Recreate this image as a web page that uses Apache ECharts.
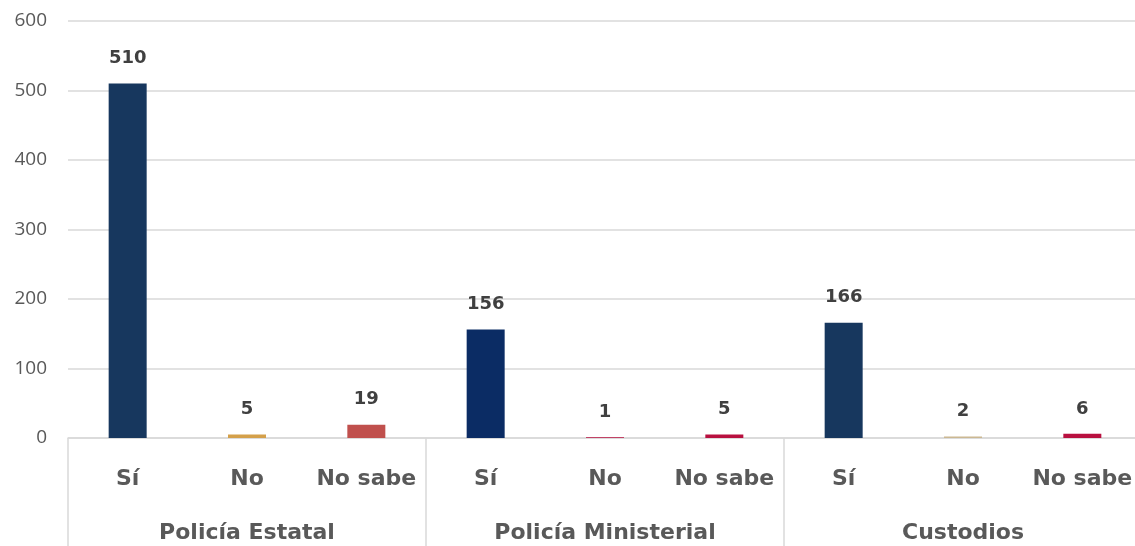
<!DOCTYPE html>
<html><head><meta charset="utf-8">
<script src="https://cdn.jsdelivr.net/npm/echarts@6/dist/echarts.min.js"></script>
<style>html,body{margin:0;padding:0;background:#fff}#c{width:1135px;height:546px}</style>
</head><body><div id="c"></div>
<script>
const groups = ['Policía Estatal', 'Policía Ministerial', 'Custodios'];
const answers = ['Sí', 'No', 'No sabe'];
const values = [510, 5, 19, 156, 1, 5, 166, 2, 6];
const colors = ['#17375e', '#d4a04a', '#c0504d', '#0b2c64', '#b8103f', '#b8103f', '#17375e', '#cbb892', '#b8103f'];
const yTicks = [0, 100, 200, 300, 400, 500, 600];

const cats = [];
groups.forEach(g => answers.forEach(a => cats.push(a)));

const chart = echarts.init(document.getElementById('c'));
chart.setOption({
  animation: false,
  grid: { left: 68, top: 21, width: 1074, height: 417, containLabel: false, outerBoundsMode: 'none' },
  xAxis: [
    {
      type: 'category', data: cats, position: 'bottom',
      axisLine: { show: true, lineStyle: { color: '#d9d9d9', width: 1.5 } },
      axisTick: { show: false },
      axisLabel: { interval: 0, margin: 30, fontFamily: 'DejaVu Sans', fontWeight: 'bold', fontSize: 22, color: '#595959' }
    },
    {
      type: 'category', data: groups, position: 'bottom',
      axisLine: { show: false },
      axisTick: { show: true, length: 110, interval: 0, lineStyle: { color: '#d9d9d9', width: 1.5 } },
      axisLabel: { interval: 0, margin: 84, fontFamily: 'DejaVu Sans', fontWeight: 'bold', fontSize: 22, color: '#595959' }
    }
  ],
  yAxis: {
    type: 'value', min: 0, max: 600, interval: 100,
    axisLine: { show: false }, axisTick: { show: false },
    splitLine: { lineStyle: { color: '#d9d9d9', width: 1.5 } },
    axisLabel: { show: true, margin: 21, fontFamily: 'Open Sans', fontWeight: 'normal', fontSize: 19, color: '#595959', align: 'right',
      formatter: v => yTicks.includes(v) ? String(v) : '' }
  },
  series: [{
    type: 'bar', xAxisIndex: 0, barWidth: 38,
    data: values.map((v, i) => ({ value: v, itemStyle: { color: colors[i] } })),
    label: { show: true, position: 'top', distance: 16, fontFamily: 'DejaVu Sans', fontWeight: 'bold', fontSize: 18, color: '#404040' }
  }]
});
</script></body></html>
